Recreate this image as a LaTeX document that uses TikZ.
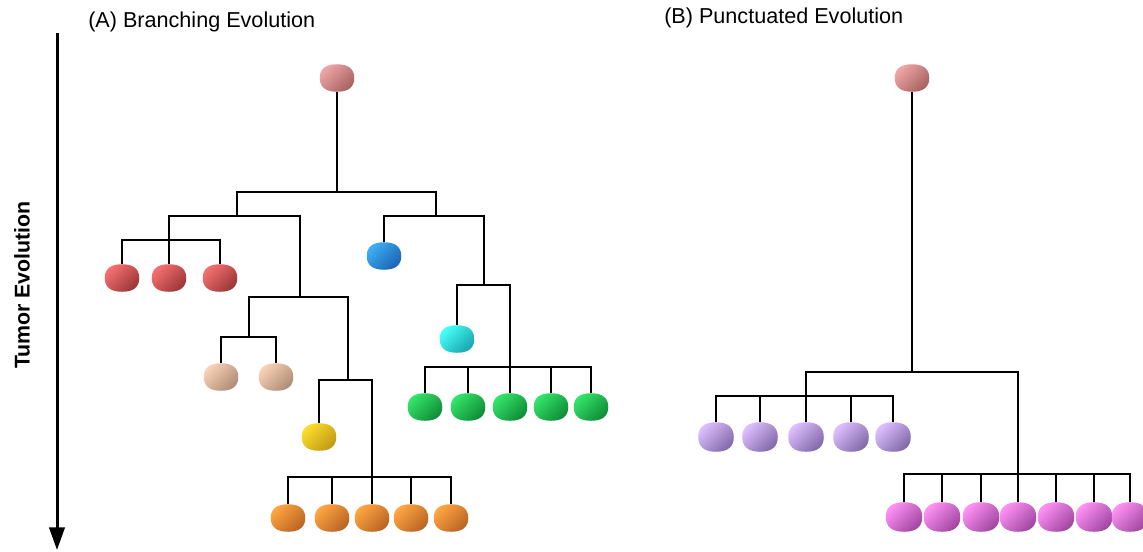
\documentclass[tikz,border=0pt]{standalone}
\usepackage{fontspec}
\setmainfont{Liberation Sans}
\usetikzlibrary{arrows.meta,calc}

% cell colours: light (upper left) and dark (lower right)
\definecolor{rootL}{RGB}{238,165,165}\definecolor{rootD}{RGB}{168,98,98}
\definecolor{redL}{RGB}{245,112,112}\definecolor{redD}{RGB}{155,55,55}
\definecolor{tanL}{RGB}{248,210,182}\definecolor{tanD}{RGB}{176,140,118}
\definecolor{yelL}{RGB}{252,220,45}\definecolor{yelD}{RGB}{192,155,20}
\definecolor{ornL}{RGB}{255,165,65}\definecolor{ornD}{RGB}{185,100,36}
\definecolor{bluL}{RGB}{62,175,245}\definecolor{bluD}{RGB}{26,100,180}
\definecolor{cyaL}{RGB}{70,255,248}\definecolor{cyaD}{RGB}{26,165,175}
\definecolor{grnL}{RGB}{52,228,105}\definecolor{grnD}{RGB}{16,140,55}
\definecolor{purL}{RGB}{220,190,255}\definecolor{purD}{RGB}{130,105,168}
\definecolor{magL}{RGB}{255,145,245}\definecolor{magD}{RGB}{160,70,160}

\begin{document}
\begin{tikzpicture}[x=0.75pt,y=-0.75pt,
  cell/.style={rectangle, minimum width=25.5pt, minimum height=20.25pt, inner sep=0pt},
  widecell/.style={cell, minimum width=26.25pt, minimum height=21.75pt},
  widercell/.style={cell, minimum width=27pt, minimum height=21.75pt},
  conn/.style={draw, line width=1.3pt},
  title/.style={anchor=west, inner sep=0pt, font=\fontsize{16.2}{19}\selectfont}
]
\useasboundingbox (0,0) rectangle (1143,551);
\clip (0,0) rectangle (1143,551);

% time axis
\coordinate (axTop) at (57,33);
\coordinate (axEnd) at (57,550);
\draw[line width=2.25pt, -{Triangle[length=17pt,width=11.5pt]}] (axTop) -- (axEnd);
\node[rotate=90, font=\bfseries\fontsize{16}{19}\selectfont] (axLabel) at (22,285) {Tumor Evolution};

% titles
\node[title] (titleA) at (88,22) {(A) Branching Evolution};
\node[title] (titleB) at (664,18) {(B) Punctuated Evolution};

% ---------- (A) branching tree ----------
\node[cell] (rA) at (337,78) {};
\coordinate (a) at (337,192);
\coordinate (a1) at (237,216);
\coordinate (a2) at (436,216);
\coordinate (a11) at (169,240);
\coordinate (a12) at (300,297);
\coordinate (a121) at (249,337);
\coordinate (a122) at (348,380);
\coordinate (a1222) at (372,477);
\coordinate (a22) at (484,285);
\coordinate (a222) at (510,367);

\node[cell] (r1) at (122,278) {};
\node[cell] (r2) at (169,278) {};
\node[cell] (r3) at (220,278) {};
\node[cell] (t1) at (221,377) {};
\node[cell] (t2) at (276,377) {};
\node[cell] (y1) at (319,437) {};
\node[cell] (o1) at (288,518) {};
\node[cell] (o2) at (332,518) {};
\node[cell] (o3) at (372,518) {};
\node[cell] (o4) at (411,518) {};
\node[cell] (o5) at (451,518) {};
\node[cell] (bl) at (384,256) {};
\node[cell] (cy) at (457,339) {};
\node[cell] (g1) at (425,407) {};
\node[cell] (g2) at (468,407) {};
\node[cell] (g3) at (510,407) {};
\node[cell] (g4) at (551,407) {};
\node[cell] (g5) at (591,407) {};

\draw[conn] (rA) -- (a);
\draw[conn] (a) -| (a1);
\draw[conn] (a) -| (a2);
\draw[conn] (a1) -| (a11);
\draw[conn] (a1) -| (a12);
\foreach \c in {r1,r2,r3} \draw[conn] (a11) -| (\c);
\draw[conn] (a12) -| (a121);
\draw[conn] (a12) -| (a122);
\foreach \c in {t1,t2} \draw[conn] (a121) -| (\c);
\draw[conn] (a122) -| (y1);
\draw[conn] (a122) -| (a1222);
\foreach \c in {o1,o2,o3,o4,o5} \draw[conn] (a1222) -| (\c);
\draw[conn] (a2) -| (bl);
\draw[conn] (a2) -| (a22);
\draw[conn] (a22) -| (cy);
\draw[conn] (a22) -| (a222);
\foreach \c in {g1,g2,g3,g4,g5} \draw[conn] (a222) -| (\c);

% ---------- (B) punctuated tree ----------
\node[cell] (rB) at (912,78) {};
\coordinate (b) at (912,372);
\coordinate (b1) at (806,396);
\coordinate (b2) at (1018,474);

\node[widecell] (p1) at (716,437) {};
\node[widecell] (p2) at (760,437) {};
\node[widecell] (p3) at (806,437) {};
\node[widecell] (p4) at (851,437) {};
\node[widecell] (p5) at (893,437) {};
\node[widercell] (m1) at (904,517) {};
\node[widercell] (m2) at (942,517) {};
\node[widercell] (m3) at (981,517) {};
\node[widercell] (m4) at (1018,517) {};
\node[widercell] (m5) at (1056,517) {};
\node[widercell] (m6) at (1094,517) {};
\node[widercell] (m7) at (1130,517) {};

\draw[conn] (rB) -- (b);
\draw[conn] (b) -| (b1);
\draw[conn] (b) -| (b2);
\foreach \c in {p1,p2,p3,p4,p5} \draw[conn] (b1) -| (\c);
\foreach \c in {m1,m2,m3,m4,m5,m6,m7} \draw[conn] (b2) -| (\c);

% cell bodies: rounded blob inside each node box, shaded light to dark
\foreach \n/\cl/\cd in {rA/rootL/rootD, rB/rootL/rootD,
    r1/redL/redD, r2/redL/redD, r3/redL/redD,
    t1/tanL/tanD, t2/tanL/tanD, y1/yelL/yelD,
    o1/ornL/ornD, o2/ornL/ornD, o3/ornL/ornD, o4/ornL/ornD, o5/ornL/ornD,
    bl/bluL/bluD, cy/cyaL/cyaD,
    g1/grnL/grnD, g2/grnL/grnD, g3/grnL/grnD, g4/grnL/grnD, g5/grnL/grnD,
    p1/purL/purD, p2/purL/purD, p3/purL/purD, p4/purL/purD, p5/purL/purD,
    m1/magL/magD, m2/magL/magD, m3/magL/magD, m4/magL/magD,
    m5/magL/magD, m6/magL/magD, m7/magL/magD}
  \shade[top color=\cl, bottom color=\cd, shading angle=45]
    (\n.east)
    .. controls ($(\n.east)!.66!(\n.north east)$) and ($(\n.north)!.66!(\n.north east)$) .. (\n.north)
    .. controls ($(\n.north)!.66!(\n.north west)$) and ($(\n.west)!.66!(\n.north west)$) .. (\n.west)
    .. controls ($(\n.west)!.66!(\n.south west)$) and ($(\n.south)!.66!(\n.south west)$) .. (\n.south)
    .. controls ($(\n.south)!.66!(\n.south east)$) and ($(\n.east)!.66!(\n.south east)$) .. (\n.east)
    -- cycle;
\end{tikzpicture}
\end{document}
